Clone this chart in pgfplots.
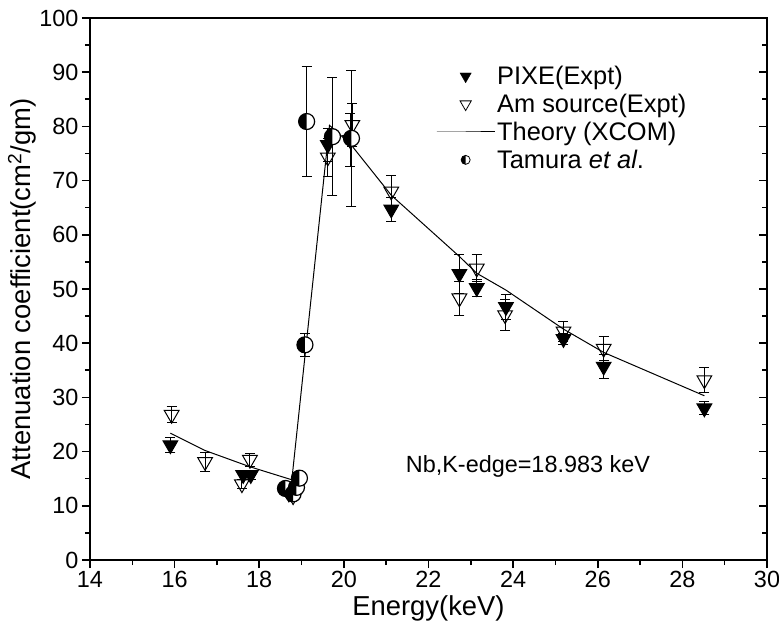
\documentclass[border=0pt]{standalone}
\usepackage{fontspec}
\setmainfont{Liberation Sans}
\usepackage{pgfplots}
\pgfplotsset{compat=1.18}
\usepackage{pgfplotstable}

\pgfdeclareplotmark{halfcirc}{%
  \pgfpathcircle{\pgfpointorigin}{\pgfplotmarksize}%
  \pgfsetfillcolor{white}\pgfusepath{fill}%
  \pgfpathmoveto{\pgfqpoint{0pt}{\pgfplotmarksize}}%
  \pgfpatharc{90}{270}{\pgfplotmarksize}%
  \pgfpathclose
  \pgfsetfillcolor{black}\pgfusepath{fill}%
  \pgfpathcircle{\pgfpointorigin}{\pgfplotmarksize}%
  \pgfusepath{stroke}%
}

\pgfplotstableread{
x y e
15.90 21.2 1.4
17.62 15.7 0.8
17.80 15.7 0.8
18.70 12.3 0.6
19.62 76.6 3.0
20.15 77.5 4.9
21.12 64.7 2.2
22.73 52.8 3.6
23.14 50.2 1.6
23.83 46.7 2.3
25.19 40.8 1.0
26.14 35.7 2.2
28.52 28.0 1.2
}\pixe

\pgfplotstableread{
x y e
15.93 26.8 1.5
16.72 18.1 1.8
17.59 14.0 0.8
17.78 18.5 1.2
18.80 11.8 0.6
19.62 74.3 3.5
20.20 80.3 4.0
21.12 68.0 3.0
22.73 48.3 3.1
23.14 53.8 2.5
23.81 45.2 2.8
25.19 42.2 1.8
26.14 39.0 2.2
28.52 33.2 2.3
}\amsrc

\pgfplotstableread{
x y e
18.62 13.2 0.5
18.80 12.2 0.5
18.88 13.4 0.5
18.95 15.1 0.5
19.08 39.7 2.1
19.12 80.9 10.1
19.73 78.1 10.9
20.18 77.8 12.6
}\tamura

\pgfplotstableread{
x y
15.90 23.4
16.72 20.2
17.78 17.2
18.77 14.8
19.66 80.2
20.15 76.8
21.12 67.3
22.73 56.0
23.14 52.9
23.83 49.8
25.19 42.6
26.14 38.3
28.52 30.3
}\theory

\begin{document}
\begin{tikzpicture}
\begin{axis}[
  scale only axis, width=677bp, height=542bp,
  xmin=14, xmax=30, ymin=0, ymax=100,
  xtick={14,16,...,30}, ytick={0,10,...,100},
  minor x tick num=1, minor y tick num=1,
  tick pos=left, tick align=outside,
  axis line style={line width=1.6bp},
  major tick length=8bp, minor tick length=5bp,
  every tick/.style={black, line width=1.6bp},
  tick label style={font=\fontsize{23.5}{25}\selectfont},
  /pgf/number format/assume math mode=true,
  xlabel={Energy(keV)},
  ylabel={Attenuation coefficient(cm\textsuperscript{2}/gm)},
  label style={font=\fontsize{27.5}{30}\selectfont},
  xlabel style={at={(rel axis cs:0.5,0)}, anchor=center, yshift=-48bp},
  ylabel style={at={(rel axis cs:0,0.5)}, anchor=center, yshift=68bp},
  legend style={draw=none, fill=none, at={(rel axis cs:0.511,0.915)}, anchor=north west,
    font=\fontsize{25.5}{27}\selectfont, inner sep=0pt, row sep=4bp},
  legend cell align=left,
  legend image code/.code={\draw[mark repeat=2,mark phase=2] plot coordinates {(0bp,0bp) (29bp,0bp) (58bp,0bp)};},
  clip=false,
]
\coordinate (bl) at (rel axis cs:0,0);
\coordinate (tr) at (rel axis cs:1,1);

\addlegendimage{only marks, mark=triangle*, mark options={rotate=180, fill=black}, mark size=6.5bp}
\addlegendentry{PIXE(Expt)}
\addlegendimage{only marks, mark=triangle, mark options={rotate=180, line width=0.8bp}, mark size=6.5bp}
\addlegendentry{Am source(Expt)}
\addlegendimage{black, line width=1bp}
\addlegendentry{Theory (XCOM)}
\addlegendimage{only marks, mark=halfcirc, mark options={line width=0.8bp}, mark size=4.5bp}
\addlegendentry{Tamura \textit{et al}.}

\addplot[black, line width=1bp, forget plot] table[x=x,y=y]{\theory};

\addplot[only marks, black, mark=triangle*, mark options={rotate=180, fill=black, line width=1bp}, mark size=8.5bp, forget plot,
  error bars/.cd, y dir=both, y explicit, error mark options={rotate=90, mark size=5bp, line width=1bp}, error bar style={line width=1bp}]
  table[x=x,y=y,y error=e]{\pixe};

\addplot[only marks, black, mark=triangle, mark options={rotate=180, line width=1bp}, mark size=8.5bp, forget plot,
  error bars/.cd, y dir=both, y explicit, error mark options={rotate=90, mark size=5bp, line width=1bp}, error bar style={line width=1bp}]
  table[x=x,y=y,y error=e]{\amsrc};

\addplot[only marks, black, mark=halfcirc, mark options={line width=1.2bp}, mark size=8bp, forget plot,
  error bars/.cd, y dir=both, y explicit, error mark options={rotate=90, mark size=5bp, line width=1bp}, error bar style={line width=1bp}]
  table[x=x,y=y,y error=e]{\tamura};

\node[font=\fontsize{23.5}{25}\selectfont] at (axis cs:24.35,17.2) {Nb,K-edge=18.983 keV};
\end{axis}
\begin{axis}[
  scale only axis, width=677bp, height=542bp,
  xmin=14, xmax=30, ymin=0, ymax=100,
  xtick=\empty, ytick={0,10,...,100},
  minor y tick num=1,
  ytick pos=right, tick align=inside,
  yticklabels={},
  axis line style={line width=1.6bp},
  major tick length=8bp, minor tick length=5bp,
  every tick/.style={black, line width=1.6bp},
]
\end{axis}
\pgfresetboundingbox
\path ([xshift=-90bp,yshift=-82bp]bl) rectangle ([xshift=12bp,yshift=18bp]tr);
\end{tikzpicture}
\end{document}
